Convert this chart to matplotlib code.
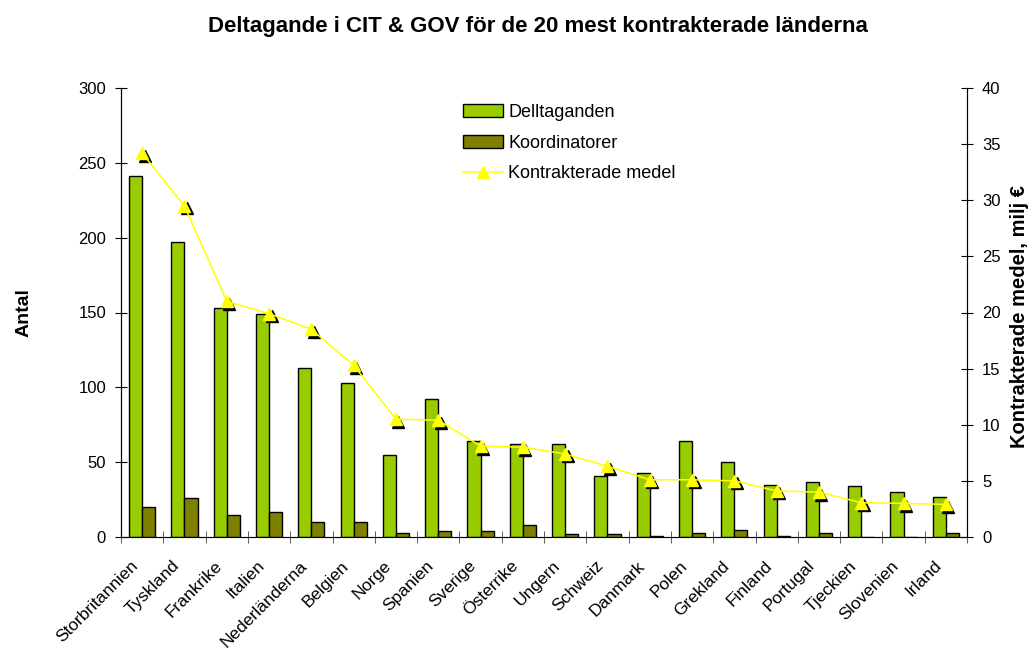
import numpy as np
import matplotlib
matplotlib.use("Agg")
import matplotlib.pyplot as plt
from matplotlib import transforms

plt.rcParams['font.family'] = ['Liberation Sans', 'DejaVu Sans']

countries = ["Storbritannien", "Tyskland", "Frankrike", "Italien", "Nederländerna",
             "Belgien", "Norge", "Spanien", "Sverige", "Österrike", "Ungern",
             "Schweiz", "Danmark", "Polen", "Grekland", "Finland", "Portugal",
             "Tjeckien", "Slovenien", "Irland"]
deltaganden = [241, 197, 153, 149, 113, 103, 55, 92, 64, 62, 62, 41, 43, 64, 50, 35, 37, 34, 30, 27]
koordinatorer = [20, 26, 15, 17, 10, 10, 3, 4, 4, 8, 2, 2, 1, 3, 5, 1, 3, 0, 0, 3]
medel = [34.2, 29.5, 21.0, 19.9, 18.5, 15.3, 10.5, 10.4, 8.1, 8.0, 7.4, 6.3, 5.1, 5.1, 5.0, 4.1, 4.0, 3.05, 3.0, 2.9]

W, H = 1029, 657
fig = plt.figure(figsize=(W / 100, H / 100), dpi=100)
ax = fig.add_axes([121 / W, 1 - 537 / H, 846 / W, 449 / H])
ax2 = ax.twinx()

x = np.arange(len(countries))
w = 0.31
b1 = ax.bar(x - w / 2, deltaganden, w, color='#99CC00', edgecolor='black', linewidth=1.0)
b2 = ax.bar(x + w / 2, koordinatorer, w, color='#808000', edgecolor='black', linewidth=1.0)

# black shadow under the triangles
shadow = transforms.offset_copy(ax2.transData, fig=fig, x=2.5, y=-2.5, units='dots')
ax2.plot(x, medel, linestyle='none', marker='^', markersize=8.5, color='black',
         transform=shadow)
l1, = ax2.plot(x, medel, color='#FFFF00', linewidth=1.1, marker='^', markersize=8.5,
               markerfacecolor='#FFFF00', markeredgecolor='#FFFF00')

ax.set_xlim(-0.5, len(countries) - 0.5)
ax.set_ylim(0, 300)
ax.set_yticks(range(0, 301, 50))
ax2.set_ylim(0, 40)
ax2.set_yticks(range(0, 41, 5))

ax.set_xticks(x)
ax.set_xticklabels(countries, rotation=45, ha='right', va='center',
                   rotation_mode='anchor', fontsize=12.5)
ax.tick_params(axis='x', length=0, pad=19)
ax.set_xticks(np.arange(-0.5, len(countries)), minor=True)
ax.tick_params(axis='x', which='minor', length=8, direction='inout', color='#404040')
shift = transforms.ScaledTranslation(-7 / 100, 0, fig.dpi_scale_trans)
for lab in ax.get_xticklabels():
    lab.set_transform(lab.get_transform() + shift)

ax.tick_params(axis='y', labelsize=12, length=8.6, direction='inout', pad=6.5)
ax2.tick_params(axis='y', labelsize=12, length=8.6, direction='inout', pad=6.5)

for a in (ax, ax2):
    a.spines['top'].set_visible(False)
ax.spines['bottom'].set_color('#808080')

ax.set_ylabel('Antal', fontsize=14, fontweight='bold')
ax.yaxis.set_label_coords(-0.105, 0.5)
ax2.set_ylabel('Kontrakterade medel, milj €', fontsize=14.5, fontweight='bold')
ax2.yaxis.set_label_coords(1.0508, 0.49)

fig.text(538 / W, 1 - 32 / H,
         'Deltagande i CIT & GOV för de 20 mest kontrakterade länderna',
         fontsize=16, fontweight='bold', ha='center', va='baseline')

ax2.legend([b1, b2, l1], ['Delltaganden', 'Koordinatorer', 'Kontrakterade medel'],
           loc='upper left', bbox_to_anchor=(463 / W, 1 - 104 / H),
           bbox_transform=fig.transFigure, frameon=False, fontsize=13,
           borderpad=0, borderaxespad=0, handlelength=2.2, handletextpad=0.3,
           labelspacing=0.75)

fig.savefig('out.png', dpi=100)
